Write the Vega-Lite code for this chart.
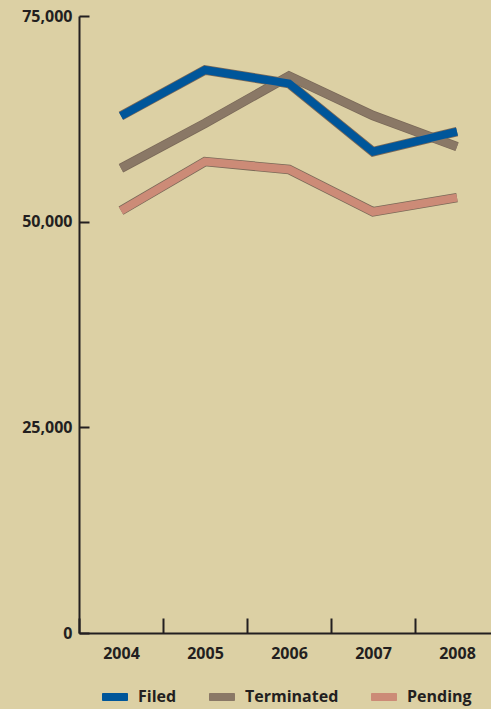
{
  "$schema": "https://vega.github.io/schema/vega-lite/v6.json",
  "width": 412,
  "height": 617,
  "autosize": {"type": "none"},
  "padding": {"left": 79, "top": 16, "right": 0, "bottom": 76},
  "background": "#dcd0a4",
  "config": {
    "view": {"stroke": null},
    "font": "Open Sans",
    "axis": {
      "domainColor": "#231f20",
      "domainWidth": 2,
      "tickColor": "#231f20",
      "tickWidth": 2,
      "labelColor": "#231f20",
      "labelFont": "Open Sans",
      "labelFontWeight": "bold",
      "labelFontSize": 16,
      "grid": false,
      "title": null
    }
  },
  "data": {
    "values": [
      {"year": "2004", "series": "Pending", "value": 51330},
      {"year": "2005", "series": "Pending", "value": 57300},
      {"year": "2006", "series": "Pending", "value": 56350},
      {"year": "2007", "series": "Pending", "value": 51200},
      {"year": "2008", "series": "Pending", "value": 52920},
      {"year": "2004", "series": "Terminated", "value": 56500},
      {"year": "2005", "series": "Terminated", "value": 61950},
      {"year": "2006", "series": "Terminated", "value": 67700},
      {"year": "2007", "series": "Terminated", "value": 62900},
      {"year": "2008", "series": "Terminated", "value": 59120},
      {"year": "2004", "series": "Filed", "value": 62850},
      {"year": "2005", "series": "Filed", "value": 68440},
      {"year": "2006", "series": "Filed", "value": 66800},
      {"year": "2007", "series": "Filed", "value": 58500},
      {"year": "2008", "series": "Filed", "value": 60940}
    ]
  },
  "encoding": {
    "x": {
      "field": "year",
      "type": "ordinal",
      "scale": {"type": "band", "paddingInner": 0, "paddingOuter": 0, "range": [0, 420]},
      "axis": {"tickBand": "extent", "tickSize": -15, "labelPadding": 27, "labelAngle": 0, "title": null}
    },
    "y": {
      "field": "value",
      "type": "quantitative",
      "scale": {"domain": [0, 75000], "nice": false},
      "axis": {"values": [0, 25000, 50000, 75000], "format": ",d", "tickSize": -10, "labelPadding": 17, "title": null}
    }
  },
  "layer": [
    {
      "mark": {"type": "line", "strokeWidth": 9.5, "color": "#7a6958", "strokeCap": "butt", "strokeJoin": "miter"},
      "encoding": {"detail": {"field": "series"}}
    },
    {
      "mark": {"type": "line", "strokeWidth": 8, "strokeCap": "butt", "strokeJoin": "miter"},
      "encoding": {
        "color": {
          "field": "series",
          "type": "nominal",
          "scale": {"domain": ["Filed", "Terminated", "Pending"], "range": ["#00569a", "#8a7866", "#cc8b77"]},
          "legend": {
            "orient": "none",
            "legendX": 23,
            "legendY": 668,
            "direction": "horizontal",
            "title": null,
            "padding": 0,
            "symbolType": "M-1,-0.28L1,-0.28L1,0.28L-1,0.28Z",
            "symbolSize": 625,
            "symbolStrokeWidth": 1,
            "labelFont": "Open Sans",
            "labelFontWeight": "bold",
            "labelFontSize": 16,
            "labelColor": "#231f20",
            "labelOffset": 10,
            "columnPadding": 30,
            "encode": {
              "symbols": {
                "update": {
                  "fill": {"scale": "color", "field": "value"},
                  "stroke": {"value": "#7a6958"}
                }
              }
            }
          }
        }
      }
    }
  ]
}
